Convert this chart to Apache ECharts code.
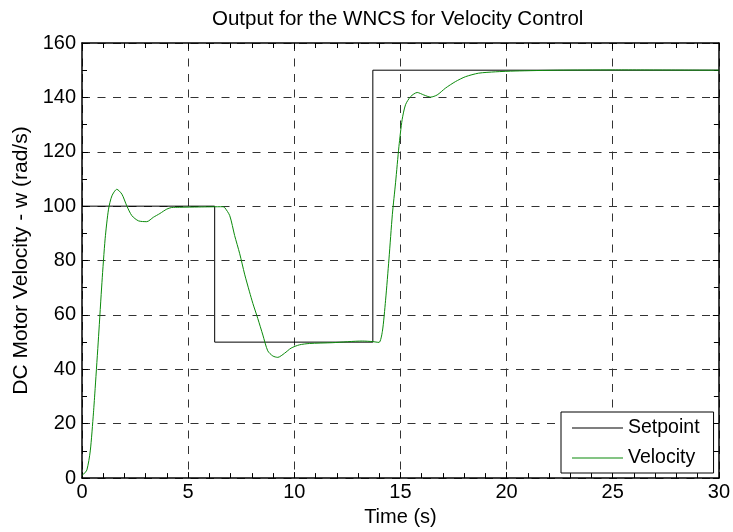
<!DOCTYPE html>
<html>
<head>
<meta charset="utf-8">
<script src="https://cdn.jsdelivr.net/npm/echarts@6/dist/echarts.min.js"></script>
<style>
html,body{margin:0;padding:0;background:#fff;}
#chart{width:733px;height:532px;}
</style>
</head>
<body>
<div id="chart"></div>
<script>
// Setpoint (step signal)
var setpointTime  = [0, 6.25, 6.25, 13.7, 13.7, 30];
var setpointValue = [100, 100, 50, 50, 150, 150];

// Measured velocity
var velocityTime = [0, 0.08, 0.23, 0.39, 0.54, 0.62, 0.78, 0.94, 1.09, 1.25, 1.41, 1.64, 1.88, 2.11, 2.35, 2.66, 3.05, 3.36, 3.67, 3.99, 4.22, 4.6, 5.5, 6.64, 6.72, 6.96, 7.19, 7.43, 7.66, 7.89, 8.05, 8.28, 8.52, 8.75, 8.99, 9.22, 9.54, 9.85, 10.24, 10.71, 11.8, 13.21, 13.68, 13.99, 14.15, 14.3, 14.46, 14.62, 14.77, 14.93, 15.08, 15.24, 15.48, 15.79, 16.1, 16.42, 16.73, 17.12, 17.59, 18.06, 18.68, 19.47, 20.4, 22.4, 25, 30];
var velocityValue = [1, 1.5, 3, 10, 24, 33, 52, 72, 88, 98.9, 103.8, 106.2, 104.4, 100.1, 96.5, 94.6, 94.3, 95.9, 97.3, 98.9, 99.5, 99.6, 99.7, 99.8, 99.5, 96.5, 89.2, 82.5, 75, 68.5, 64.2, 58.7, 52.6, 46.8, 44.9, 44.4, 45.9, 47.8, 49, 49.5, 49.8, 50.4, 50.2, 49.9, 54, 65.4, 80.6, 97, 108.6, 122, 131.8, 137.3, 140.3, 141.8, 140.9, 140.1, 140.9, 143.4, 145.8, 147.6, 148.9, 149.4, 149.7, 150, 150.1, 150];

var seriesNames = ['Setpoint', 'Velocity'];
var titleText = 'Output for the WNCS for Velocity Control';
var xName = 'Time (s)';
var yName = 'DC Motor Velocity - w (rad/s)';

function zip(a, b) { return a.map(function (v, i) { return [v, b[i]]; }); }

var FONT = '"Liberation Sans", Arial, sans-serif';
var chart = echarts.init(document.getElementById('chart'), null, {renderer: 'canvas'});

var gridLine = {show: true, lineStyle: {color: '#333', width: 1, type: [8, 7.5]}};
var axisLine = {show: true, onZero: false, lineStyle: {color: '#000', width: 1.5}};

chart.setOption({
  animation: false,
  backgroundColor: '#fff',
  title: {
    text: titleText,
    left: 212, top: 9, padding: 0,
    textStyle: {fontFamily: FONT, fontSize: 20.5, fontWeight: 'normal', color: '#000'}
  },
  grid: {left: 82, right: 12, top: 43, bottom: 51},
  legend: {
    orient: 'vertical',
    left: 561, top: 412,
    padding: [6, 14, 5, 11],
    itemGap: 10,
    itemWidth: 51, itemHeight: 1.2,
    icon: 'rect',
    backgroundColor: '#fff',
    borderColor: '#000', borderWidth: 1,
    textStyle: {fontFamily: FONT, fontSize: 19.5, color: '#000', lineHeight: 20},
    data: seriesNames
  },
  xAxis: [{
    type: 'value', min: 0, max: 30, interval: 5,
    name: xName, nameLocation: 'middle', nameGap: 28,
    nameTextStyle: {fontFamily: FONT, fontSize: 20, color: '#000'},
    axisLine: axisLine,
    axisTick: {show: true, inside: true, length: 6, lineStyle: {color: '#000'}},
    minorTick: {show: true, splitNumber: 5, length: 5, lineStyle: {color: '#000'}},
    axisLabel: {margin: 4, fontFamily: FONT, fontSize: 20, color: '#000'},
    splitLine: gridLine
  }, {
    type: 'value', min: 0, max: 30, interval: 5, position: 'top',
    axisLine: axisLine,
    axisTick: {show: true, inside: true, length: 6, lineStyle: {color: '#000'}},
    minorTick: {show: true, splitNumber: 5, length: 5, lineStyle: {color: '#000'}},
    axisLabel: {show: false},
    splitLine: {show: false}
  }],
  yAxis: [{
    type: 'value', min: 0, max: 160, interval: 20,
    name: yName, nameLocation: 'middle', nameGap: 48, nameRotate: 90,
    nameTextStyle: {fontFamily: FONT, fontSize: 21, color: '#000'},
    axisLine: axisLine,
    axisTick: {show: true, inside: true, length: 6, lineStyle: {color: '#000'}},
    minorTick: {show: true, splitNumber: 2, length: 5, lineStyle: {color: '#000'}},
    axisLabel: {margin: 6, fontFamily: FONT, fontSize: 20, color: '#000'},
    splitLine: gridLine
  }, {
    type: 'value', min: 0, max: 160, interval: 20, position: 'right',
    axisLine: axisLine,
    axisTick: {show: true, inside: true, length: 6, lineStyle: {color: '#000'}},
    minorTick: {show: true, splitNumber: 2, length: 5, lineStyle: {color: '#000'}},
    axisLabel: {show: false},
    splitLine: {show: false}
  }],
  series: [{
    name: seriesNames[0], type: 'line',
    data: zip(setpointTime, setpointValue),
    showSymbol: false, symbol: 'none',
    color: '#000',
    lineStyle: {color: '#000', width: 1},
    z: 3
  }, {
    name: seriesNames[1], type: 'line',
    data: zip(velocityTime, velocityValue),
    showSymbol: false, symbol: 'none', smooth: 0.25,
    color: '#0a8a0a',
    lineStyle: {color: '#0a8a0a', width: 1},
    z: 3
  }]
});
</script>
</body>
</html>
